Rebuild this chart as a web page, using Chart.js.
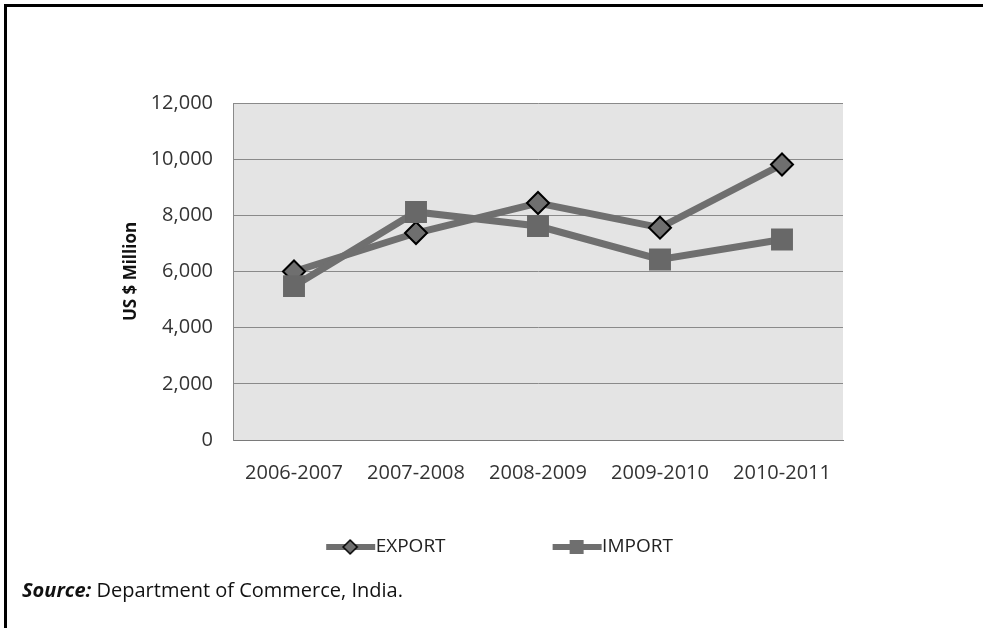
<!DOCTYPE html>
<html>
<head>
<meta charset="utf-8">
<script src="https://cdn.jsdelivr.net/npm/chart.js@4.4.1/dist/chart.umd.min.js"></script>
<style>
  body { margin: 0; background: #fff; width: 983px; height: 628px; overflow: hidden; position: relative; }
  #wrap { position: absolute; left: 0; top: 0; width: 983px; height: 580px; }
  #frame { position: absolute; left: 4px; top: 4px; width: 1000px; height: 700px;
           border-top: 3px solid #000; border-left: 3px solid #000; pointer-events: none; }
  #source { position: absolute; left: 22px; top: 579px; font-family: "Open Sans", sans-serif;
            font-size: 20px; line-height: 22px; color: #111; white-space: nowrap; }
</style>
</head>
<body>
<div id="wrap"><canvas id="chart"></canvas></div>
<div id="frame"></div>
<div id="source"><b><i>Source:</i></b> Department of Commerce, India.</div>
<script>
const years = ["2006-2007", "2007-2008", "2008-2009", "2009-2010", "2010-2011"];
const exportVals = [6000, 7370, 8440, 7560, 9810];
const importVals = [5480, 8120, 7620, 6430, 7140];
const yTicks = [0, 2000, 4000, 6000, 8000, 10000, 12000];

const lineCol = '#6f6f6f';

// legend sample: line with marker, drawn into a small canvas
function legendIcon(kind) {
  const c = document.createElement('canvas');
  c.width = 157; c.height = 24;
  const g = c.getContext('2d');
  g.strokeStyle = lineCol; g.lineWidth = 6;
  g.beginPath(); g.moveTo(107, 12); g.lineTo(156, 12); g.stroke();
  g.fillStyle = lineCol;
  if (kind === 'diamond') {
    g.beginPath();
    g.moveTo(131, 5); g.lineTo(138, 12); g.lineTo(131, 19); g.lineTo(124, 12); g.closePath();
    g.fill(); g.strokeStyle = '#000'; g.lineWidth = 1.5; g.stroke();
  } else {
    g.fillRect(124, 5, 14, 14);
  }
  return c;
}

const plotBg = {
  id: 'plotBg',
  beforeDraw(chart) {
    const a = chart.chartArea, ctx = chart.ctx;
    ctx.save();
    ctx.fillStyle = '#e4e4e4';
    ctx.fillRect(a.left, a.top, a.right - a.left, a.bottom - a.top);
    ctx.restore();
  }
};

new Chart(document.getElementById('chart'), {
  type: 'line',
  data: {
    labels: years,
    datasets: [{
      label: 'EXPORT',
      data: exportVals,
      borderColor: lineCol,
      borderWidth: 7,
      pointStyle: 'rectRot',
      pointRadius: 11,
      pointBackgroundColor: lineCol,
      pointBorderColor: '#000',
      pointBorderWidth: 2,
      tension: 0,
      order: 1
    }, {
      label: 'IMPORT',
      data: importVals,
      borderColor: lineCol,
      borderWidth: 7,
      pointStyle: 'rect',
      pointRadius: 15.5,
      pointBackgroundColor: '#686868',
      pointBorderColor: '#686868',
      pointBorderWidth: 0,
      tension: 0,
      order: 0
    }]
  },
  options: {
    responsive: true,
    maintainAspectRatio: false,
    animation: false,
    layout: { padding: { left: 0, right: 81, top: 103, bottom: 13.5 } },
    scales: {
      x: {
        offset: true,
        grid: { display: false, drawTicks: false },
        border: { display: true, color: '#7a7a7a', width: 1 },
        ticks: { color: '#333', padding: 21, font: { family: 'Open Sans', size: 20 } },
        afterFit(s) { s.height = 87.5; }
      },
      y: {
        min: 0, max: 12000,
        afterBuildTicks(s) { s.ticks = yTicks.map(v => ({ value: v })); },
        grid: { color: '#8a8a8a', lineWidth: 1, drawTicks: false },
        border: { display: true, color: '#8a8a8a' },
        ticks: {
          color: '#333', padding: 20, font: { family: 'Open Sans', size: 20 },
          callback: v => v.toLocaleString('en-US')
        },
        title: {
          display: true, text: 'US $ Million', color: '#111',
          font: { family: 'Open Sans', size: 17, weight: 'bold' },
          padding: { top: 121, bottom: 0 }
        },
        afterFit(s) { s.width = 233; }
      },
      y2: {
        position: 'right',
        display: true,
        grid: { display: false },
        border: { display: false },
        ticks: { display: false },
        afterFit(s) { s.width = 59; }
      }
    },
    plugins: {
      tooltip: { enabled: false },
      legend: {
        position: 'bottom',
        labels: {
          usePointStyle: true,
          pointStyleWidth: 137,
          padding: 10,
          color: '#222',
          font: { family: 'Open Sans', size: 19 },
          generateLabels(chart) {
            return [
              { text: 'EXPORT', pointStyle: legendIcon('diamond'), datasetIndex: 0, hidden: false,
                fontColor: '#222', lineWidth: 0, strokeStyle: 'rgba(0,0,0,0)', fillStyle: 'rgba(0,0,0,0)' },
              { text: 'IMPORT', pointStyle: legendIcon('square'), datasetIndex: 1, hidden: false,
                fontColor: '#222', lineWidth: 0, strokeStyle: 'rgba(0,0,0,0)', fillStyle: 'rgba(0,0,0,0)' }
            ];
          }
        }
      }
    }
  },
  plugins: [plotBg]
});
</script>
</body>
</html>
